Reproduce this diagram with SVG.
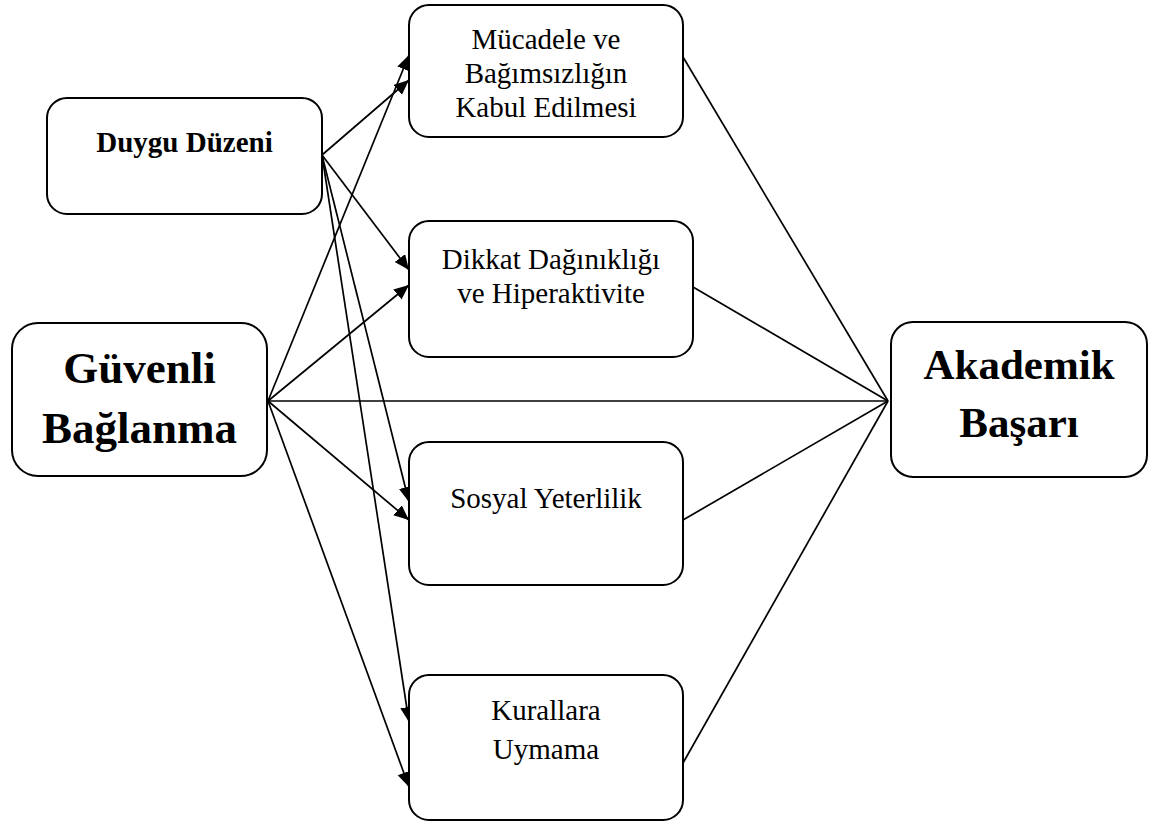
<svg xmlns="http://www.w3.org/2000/svg" width="1163" height="825" viewBox="0 0 1163 825">
<style>
.box{fill:#fff;stroke:#000;stroke-width:2}
.t{font-family:"Liberation Serif","Times New Roman",serif;fill:#000;text-anchor:middle}
.r{font-size:29px}
.b{font-weight:bold}
.ln{stroke:#000;stroke-width:1.7;fill:none}
</style>
<defs>
<marker id="ah" markerUnits="userSpaceOnUse" markerWidth="16" markerHeight="14" refX="15" refY="6.5" orient="auto">
<path d="M0,0 L15,6.5 L0,13 z" fill="#000"/>
</marker>
</defs>
<rect width="1163" height="825" fill="#fff"/>
<g id="connectors">
<line class="ln" x1="322" y1="155" x2="409" y2="80" marker-end="url(#ah)"/>
<line class="ln" x1="322" y1="155" x2="409" y2="270" marker-end="url(#ah)"/>
<line class="ln" x1="322" y1="155" x2="409" y2="502" marker-end="url(#ah)"/>
<line class="ln" x1="322" y1="155" x2="409" y2="722" marker-end="url(#ah)"/>
<line class="ln" x1="268" y1="401" x2="409" y2="55" marker-end="url(#ah)"/>
<line class="ln" x1="268" y1="401" x2="409" y2="285" marker-end="url(#ah)"/>
<line class="ln" x1="268" y1="401" x2="409" y2="520" marker-end="url(#ah)"/>
<line class="ln" x1="268" y1="401" x2="409" y2="787" marker-end="url(#ah)"/>
<line class="ln" x1="268" y1="401" x2="888" y2="401"/>
<line class="ln" x1="683" y1="57" x2="888" y2="401"/>
<line class="ln" x1="693" y1="287" x2="888" y2="401"/>
<line class="ln" x1="683" y1="520" x2="888" y2="401"/>
<line class="ln" x1="683" y1="763" x2="888" y2="401"/>
</g>
<g id="duygu">
<rect class="box" x="47" y="98" width="275" height="116" rx="20"/>
<text class="t r b" x="184.5" y="152">Duygu Düzeni</text>
</g>
<g id="guvenli">
<rect class="box" x="12" y="323" width="255" height="153" rx="26"/>
<text class="t b" font-size="45" x="139.5" y="383">Güvenli</text>
<text class="t b" font-size="45" x="139.5" y="443">Bağlanma</text>
</g>
<g id="mucadele">
<rect class="box" x="409" y="5" width="274" height="132" rx="20"/>
<text class="t r" x="546" y="49">Mücadele ve</text>
<text class="t r" x="546" y="83">Bağımsızlığın</text>
<text class="t r" x="546" y="117">Kabul Edilmesi</text>
</g>
<g id="dikkat">
<rect class="box" x="409" y="221" width="284" height="136" rx="20"/>
<text class="t r" x="551" y="269">Dikkat Dağınıklığı</text>
<text class="t r" x="551" y="303">ve Hiperaktivite</text>
</g>
<g id="sosyal">
<rect class="box" x="409" y="442" width="274" height="143" rx="20"/>
<text class="t r" x="546" y="508">Sosyal Yeterlilik</text>
</g>
<g id="kurallara">
<rect class="box" x="409" y="675" width="274" height="145" rx="20"/>
<text class="t r" x="546" y="720">Kurallara</text>
<text class="t r" x="546" y="759">Uymama</text>
</g>
<g id="akademik">
<rect class="box" x="891" y="322" width="256" height="155" rx="22"/>
<text class="t b" font-size="43" x="1019" y="379">Akademik</text>
<text class="t b" font-size="43" x="1019" y="437">Başarı</text>
</g>
</svg>
